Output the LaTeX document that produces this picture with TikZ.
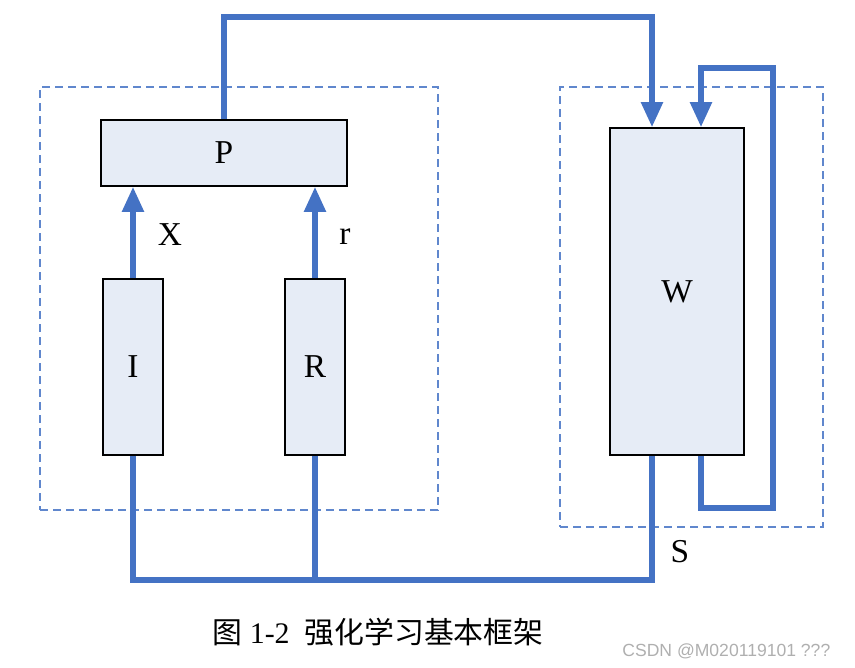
\documentclass[tikz,border=0pt]{standalone}
\usepackage{fontspec}
\setmainfont{Liberation Serif}
\newfontfamily\cjk{Noto Sans CJK SC}
\newfontfamily\wmfont{Liberation Sans}
\usetikzlibrary{arrows.meta}
\definecolor{lineblue}{RGB}{68,114,196}
\definecolor{boxfill}{RGB}{230,236,246}
\definecolor{wmgray}{RGB}{175,175,175}
\begin{document}
\begin{tikzpicture}[x=0.02cm,y=-0.02cm,
  blk/.style={draw=black,line width=1pt,fill=boxfill,inner sep=0pt,font=\fontsize{19}{22}\selectfont},
  conn/.style={draw=lineblue,line width=3pt},
  arr/.style={conn,-{Triangle[length=0.5cm,width=0.42cm]}},
  dbox/.style={draw=lineblue!85,line width=1.1pt,dash pattern=on 0.16cm off 0.1cm,inner sep=0pt},
  lbl/.style={font=\fontsize{19}{22}\selectfont}]
\useasboundingbox (0,0) rectangle (855,668);
% dashed group frames
\node[dbox,minimum width=7.96cm,minimum height=8.46cm] (LF) at (239,298.5) {};
\node[dbox,minimum width=5.26cm,minimum height=8.8cm] (RF) at (691.5,307) {};
% boxes
\node[blk,minimum width=4.92cm,minimum height=1.32cm] (P) at (224,153) {P};
\node[blk,minimum width=1.2cm,minimum height=3.52cm] (I) at (133,367) {I};
\node[blk,minimum width=1.2cm,minimum height=3.52cm] (R) at (315,367) {R};
\node[blk,minimum width=2.68cm,minimum height=6.54cm] (W) at (677,291.5) {W};
% helper coordinates
\coordinate (xa) at (652,0);
\coordinate (xb) at (701,0);
\coordinate (tp) at (652,17);
\coordinate (lr) at (773,508);
\coordinate (ur) at (773,68);
\coordinate (bl) at (0,580);
% connectors
\draw[arr] (I.north) -- (I.north |- P.south);
\draw[arr] (R.north) -- (R.north |- P.south);
\draw[arr] (P.north) |- (tp) -- (W.north -| xa);
\draw[arr] (W.south -| xb) |- (lr) -- (ur) -| (W.north -| xb);
\draw[conn] (I.south) -- (I.south |- bl) -| (W.south -| xa);
\draw[conn] (R.south) -- (R.south |- bl);
% labels
\node[lbl] (lX) at (170,235) {X};
\node[lbl] (lr2) at (345,237) {r};
\node[lbl] (lS) at (680,552) {S};
% caption
\node[font=\fontsize{17}{20}\selectfont] (cap) at (378,632) {{\cjk 图}\ 1-2\ \ {\cjk 强化学习基本框架}};
\node[font=\wmfont\fontsize{10}{12}\selectfont,text=wmgray,anchor=west,inner sep=0pt] (wm) at (622,651) {CSDN @M020119101 ???};
\end{tikzpicture}
\end{document}
